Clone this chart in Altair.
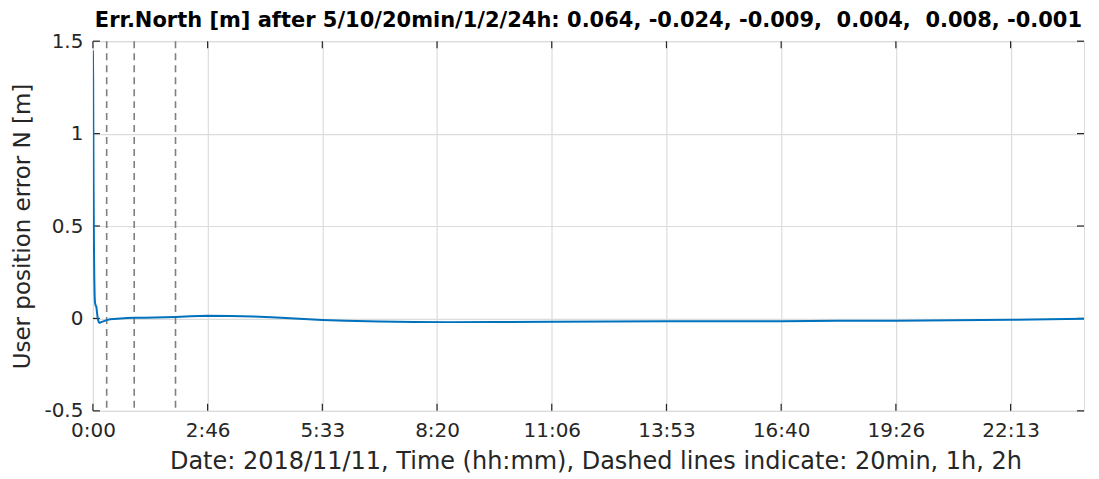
import altair as alt
import pandas as pd

# --- data ---
t_sec = [0, 20, 40, 60, 90, 120, 150, 180, 240, 300, 360, 420, 480, 540, 600, 720, 900,
         1200, 1500, 1800, 2400, 3000, 3600, 4500, 5400, 6300, 7200, 8500, 10000, 12000,
         14000, 16000, 18000, 20000, 22000, 25000, 28000, 31000, 35000, 40000, 45000,
         50000, 55000, 60000, 65000, 70000, 75000, 80000, 86400]
err_n = [1.45, 1.3, 1.0, 0.7, 0.4, 0.22, 0.12, 0.085, 0.07, 0.064, 0.03, 0.0, -0.015,
         -0.022, -0.024, -0.02, -0.016, -0.009, -0.005, -0.003, 0.0, 0.002, 0.004, 0.004,
         0.005, 0.006, 0.008, 0.012, 0.014, 0.013, 0.01, 0.005, -0.002, -0.008, -0.013,
         -0.017, -0.019, -0.02, -0.019, -0.018, -0.017, -0.015, -0.015, -0.015, -0.013,
         -0.012, -0.01, -0.007, -0.002]
dashed_sec = [1200, 3600, 7200]
x_ticks = [0, 10000, 20000, 30000, 40000, 50000, 60000, 70000, 80000]
x_labels = ["0:00", "2:46", "5:33", "8:20", "11:06", "13:53", "16:40", "19:26", "22:13"]
y_ticks = [-0.5, 0, 0.5, 1, 1.5]
y_labels = ["-0.5", "0", "0.5", "1", "1.5"]

NB = "\u00a0"
title = ("Err.North [m] after 5/10/20min/1/2/24h: 0.064, -0.024, -0.009, " + NB + "0.004, "
         + NB + "0.008, -0.001")
x_title = "Date: 2018/11/11, Time (hh:mm), Dashed lines indicate: 20min, 1h, 2h"
y_title = "User position error N [m]"

W, H = 992, 370
FONT = "DejaVu Sans"
TXT = "#262626"

df = pd.DataFrame({"t": t_sec, "e": err_n})
dash_df = pd.DataFrame({"t": dashed_sec})
xt_df = pd.DataFrame({"t": x_ticks})
yt_df = pd.DataFrame({"v": y_ticks})


def expr(vals, labs):
    return " : ".join(f"datum.value == {v} ? '{l}'" for v, l in zip(vals, labs)) + " : ''"


xscale = alt.Scale(domain=[0, 86400], nice=False, zero=False)
yscale = alt.Scale(domain=[-0.5, 1.5], nice=False, zero=False)

xaxis = alt.Axis(values=x_ticks, labelExpr=expr(x_ticks, x_labels), title=x_title, grid=True,
                 gridColor="#dcdcdc", gridWidth=1.2, ticks=False, domain=False,
                 labelFont=FONT, labelFontSize=20, labelColor=TXT, labelPadding=10,
                 titleFont=FONT, titleFontSize=24, titleFontWeight="normal",
                 titleColor=TXT, titlePadding=9, labelFlush=False, titleX=W / 2 + 7)
yaxis = alt.Axis(values=y_ticks, labelExpr=expr(y_ticks, y_labels), title=y_title, grid=True,
                 gridColor="#dcdcdc", gridWidth=1.2, ticks=False, domain=False,
                 labelFont=FONT, labelFontSize=20, labelColor=TXT, labelPadding=10,
                 titleFont=FONT, titleFontSize=23, titleFontWeight="normal",
                 titleColor=TXT, titlePadding=9, labelFlush=False)

base_line = alt.Chart(df).mark_line(color="#0072BD", strokeWidth=2, clip=True).encode(
    x=alt.X("t:Q", scale=xscale, axis=xaxis),
    y=alt.Y("e:Q", scale=yscale, axis=yaxis),
)

dashes = alt.Chart(dash_df).mark_rule(color="#7f7f7f", strokeWidth=1.6, strokeDash=[7, 5]).encode(
    x=alt.X("t:Q", scale=xscale)
)

# inward tick marks (MATLAB style)
TK = 7
xt_bottom = alt.Chart(xt_df).mark_rule(color=TXT, strokeWidth=1.2).encode(
    x=alt.X("t:Q", scale=xscale), y=alt.value(H), y2=alt.value(H - TK))
xt_top = alt.Chart(xt_df).mark_rule(color=TXT, strokeWidth=1.2).encode(
    x=alt.X("t:Q", scale=xscale), y=alt.value(0), y2=alt.value(TK))
yt_left = alt.Chart(yt_df).mark_rule(color=TXT, strokeWidth=1.2).encode(
    y=alt.Y("v:Q", scale=yscale), x=alt.value(0), x2=alt.value(TK))
yt_right = alt.Chart(yt_df).mark_rule(color=TXT, strokeWidth=1.2).encode(
    y=alt.Y("v:Q", scale=yscale), x=alt.value(W), x2=alt.value(W - TK))

chart = alt.layer(dashes, xt_bottom, xt_top, yt_left, yt_right, base_line).properties(
    width=W, height=H,
    title=alt.TitleParams(title, font=FONT, fontSize=21, fontWeight="bold", color="black",
                          anchor="middle", offset=0),
    padding={"left": 3, "top": 2, "right": 6, "bottom": 0},
).configure_view(stroke=TXT, strokeWidth=1.5).configure(background="white")

chart.save("out.html", embed_options={"renderer": "svg", "actions": False})
